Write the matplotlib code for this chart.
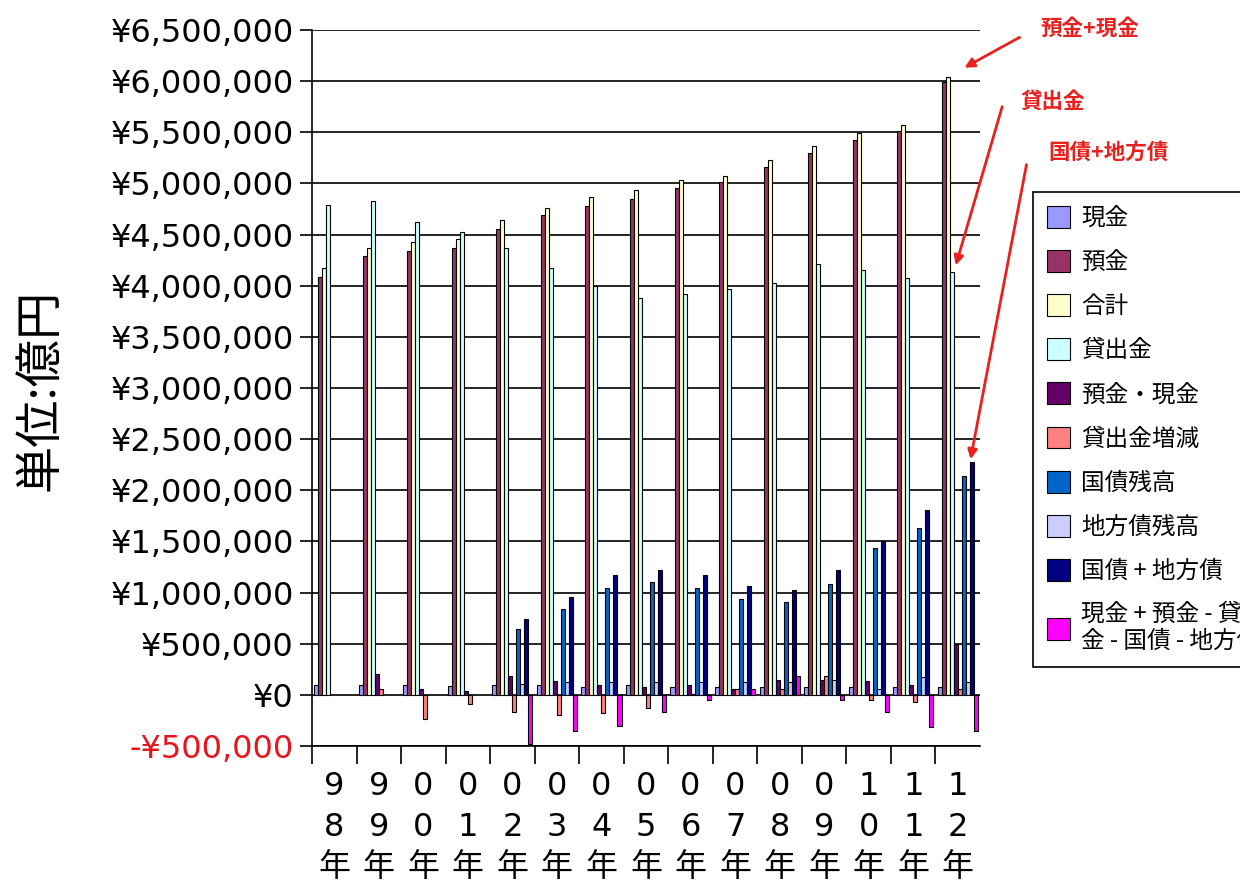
import numpy as np
import matplotlib
matplotlib.use('Agg')
import matplotlib.pyplot as plt
from matplotlib.ticker import FuncFormatter, MultipleLocator, FixedLocator

plt.rcParams['font.family'] = ['DejaVu Sans', 'Noto Sans CJK JP']

nan = np.nan

# 単位: 億円
years = ['98', '99', '00', '01', '02', '03', '04', '05', '06', '07', '08', '09', '10', '11', '12']

genkin = [98000, 98000, 98000, 82000, 98000, 98000, 75000, 98000, 75000, 75000, 75000, 75000, 75000, 75000, 75000]
yokin = [4090000, 4290000, 4340000, 4370000, 4550000, 4690000, 4780000, 4850000, 4955000, 5010000,
         5160000, 5300000, 5420000, 5510000, 5990000]
goukei = [4175000, 4370000, 4430000, 4460000, 4640000, 4760000, 4870000, 4940000, 5030000, 5070000,
          5230000, 5370000, 5490000, 5575000, 6040000]
kashidashi = [4790000, 4830000, 4620000, 4530000, 4370000, 4175000, 4000000, 3880000, 3920000, 3970000,
              4030000, 4210000, 4150000, 4080000, 4135000]
yokin_genkin = [nan, 206000, 59000, 42000, 183000, 131000, 98000, 75000, 98000, 59000,
                150000, 147000, 131000, 92000, 493000]
kashidashi_zougen = [nan, 59000, -235000, -88000, -163000, -196000, -176000, -127000, 10000, 59000,
                     59000, 183000, -49000, -72000, 59000]
kokusai = [nan, nan, nan, nan, 640000, 837000, 1040000, 1100000, 1040000, 936000,
           903000, 1080000, 1435000, 1630000, 2140000]
chihousai = [nan, nan, nan, nan, 105000, 124000, 124000, 124000, 124000, 124000,
             124000, 147000, 59000, 173000, 124000]
kokusai_chihou = [nan, nan, nan, nan, 745000, 955000, 1170000, 1225000, 1170000, 1060000,
                  1030000, 1220000, 1500000, 1810000, 2280000]
sagaku = [nan, nan, nan, nan, -480000, -356000, -300000, -163000, -46000, 59000,
          180000, -46000, -163000, -316000, -350000]

series = [genkin, yokin, goukei, kashidashi, yokin_genkin, kashidashi_zougen,
          kokusai, chihousai, kokusai_chihou, sagaku]
labels = ['現金', '預金', '合計', '貸出金', '預金・現金', '貸出金増減', '国債残高', '地方債残高',
          '国債 + 地方債', '現金 + 預金 - 貸出\n金 - 国債 - 地方債']
colors = ['#9999FF', '#993366', '#FFFFCC', '#CCFFFF', '#660066', '#FF8080',
          '#0066CC', '#CCCCFF', '#000080', '#FF00FF']

fig = plt.figure(figsize=(12.4, 8.83), dpi=100)
ax = fig.add_axes([312/1240, 1-746/883, (980-312)/1240, (746-30)/883])

x = np.arange(len(years))
w = 0.09
for k, (vals, lab, col) in enumerate(zip(series, labels, colors)):
    ax.bar(x + (k - 4.5) * w, vals, w, color=col, edgecolor='black', linewidth=0.8, label=lab, zorder=3)

ax.set_xlim(-0.5, len(years) - 0.5)
ax.set_ylim(-500000, 6500000)
ax.yaxis.set_major_locator(MultipleLocator(500000))

def yen(v, pos):
    if v < 0:
        return '-¥{:,.0f}'.format(-v)
    return '¥{:,.0f}'.format(v)

ax.yaxis.set_major_formatter(FuncFormatter(yen))
ax.tick_params(axis='y', labelsize=23, length=9, width=1.2, direction='out', pad=4)
fig.canvas.draw()
for t in ax.get_yticklabels():
    if t.get_text().startswith('-'):
        t.set_color('#E8141B')

ax.grid(axis='y', color='black', linewidth=1.2, zorder=0)
ax.set_axisbelow(True)

ax.xaxis.set_major_locator(FixedLocator(np.arange(len(years)) - 0.5))
ax.xaxis.set_major_formatter(FuncFormatter(lambda v, p: ''))
ax.xaxis.set_minor_locator(FixedLocator(x))
ax.set_xticklabels(['\n'.join(y) + '\n年' for y in years], minor=True)
ax.tick_params(axis='x', which='major', length=13, width=1.2, direction='out')
ax.tick_params(axis='x', which='minor', length=0, labelsize=23, pad=18)
for t in ax.get_xticklabels(minor=True):
    t.set_linespacing(1.4)

for s in ['top', 'right']:
    ax.spines[s].set_visible(False)
ax.spines['left'].set_linewidth(1.2)
ax.spines['bottom'].set_linewidth(1.2)

fig.text(40/1240, 1-390/883, '単位:億円', rotation=90, fontsize=34, ha='center', va='center',
         family=['Noto Sans CJK JP', 'DejaVu Sans'])

leg = ax.legend(loc='upper left', bbox_to_anchor=(1033/1240, 1-192/883), bbox_transform=fig.transFigure,
                fancybox=False, edgecolor='black', framealpha=1,
                prop={'family': ['Noto Sans CJK JP', 'DejaVu Sans'], 'size': 17},
                handlelength=0.95, handleheight=1.05, handletextpad=0.5, labelspacing=0.85,
                borderpad=0.6, borderaxespad=0)
leg.get_frame().set_linewidth(1.2)

# red notes
red = '#E8201E'
notes = [('預金+現金', 1090, 28), ('貸出金', 1053, 101), ('国債+地方債', 1108, 152)]
for txt, px, py in notes:
    fig.text(px/1240, 1-py/883, txt, color=red, fontsize=15.5, fontweight='bold', ha='center', va='center',
             family=['Noto Sans CJK JP', 'DejaVu Sans'])
arrows = [((1022, 36), (962, 69)), ((1003, 104), (955, 268)), ((1027, 162), (970, 462))]
for (x0, y0), (x1, y1) in arrows:
    ax.annotate('', xy=(x1/1240, 1-y1/883), xycoords='figure fraction',
                xytext=(x0/1240, 1-y0/883), textcoords='figure fraction',
                arrowprops=dict(arrowstyle='-|>', color=red, lw=2, mutation_scale=14))

fig.savefig('out.png', dpi=100)
